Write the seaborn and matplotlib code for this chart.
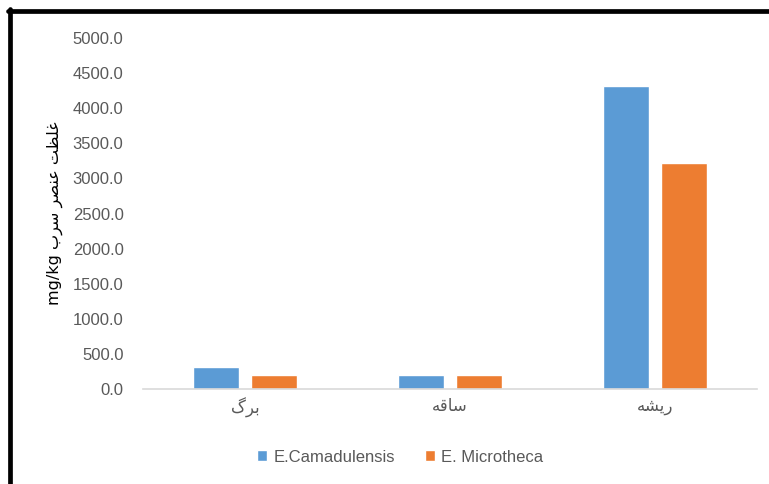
import seaborn as sns
import matplotlib.pyplot as plt
import pandas as pd
from matplotlib.lines import Line2D
from matplotlib import font_manager

# Persian labels written with presentation forms in visual order (matplotlib has no shaping)
categories = ["\uFB92\uFEAE\uFE91", "\uFEEA\uFED7\uFE8E\uFEB3", "\uFEEA\uFEB8\uFBFE\uFEAD"]  # برگ، ساقه، ریشه
series = ["E.Camadulensis", "E. Microtheca"]
camadulensis = [310, 200, 4320]
microtheca = [200, 200, 3220]
yticks = [0, 500, 1000, 1500, 2000, 2500, 3000, 3500, 4000, 4500, 5000]
ylabel = "mg/kg " + "\uFE8F\uFEAE\uFEB3 \uFEAE\uFEBC\uFEE8\uFECB \uFE96\uFEC8\uFEE0\uFECF"

df = pd.DataFrame({
    "cat": categories * 2,
    "val": camadulensis + microtheca,
    "species": [series[0]] * 3 + [series[1]] * 3,
})

sns.set_style("white")
names = {f.name for f in font_manager.fontManager.ttflist}
narrow = "Liberation Sans Narrow" if "Liberation Sans Narrow" in names else "Liberation Sans"
plt.rcParams["font.family"] = [narrow, "DejaVu Sans"]

fig = plt.figure(figsize=(7.69, 4.84), dpi=100)
ax = fig.add_axes([143 / 769, 1 - 389 / 484, (757 - 143) / 769, (389 - 38) / 484])

sns.barplot(data=df, x="cat", y="val", hue="species", order=categories,
            hue_order=series, palette=["#5B9BD5", "#ED7D31"], saturation=1,
            width=0.567, gap=0.207, ax=ax, legend=True)

ax.set_ylim(0, 5000)
ax.set_xlim(-0.5, 2.5)
ax.set_yticks(yticks)
ax.set_yticklabels([f"{v:.1f}" for v in yticks], color="#595959", fontsize=12)
ax.set_xticks(range(3))
ax.set_xticklabels(categories, color="#595959", fontsize=12, family=["DejaVu Sans"])
ax.tick_params(axis="both", length=0, pad=6)
ax.tick_params(axis="y", pad=14)
ax.set_xlabel("")
ax.set_ylabel(ylabel, fontsize=11.5, color="black", family=["DejaVu Sans"], labelpad=7)
for s in ["top", "right", "left"]:
    ax.spines[s].set_visible(False)
ax.spines["bottom"].set_color("#D9D9D9")
ax.spines["bottom"].set_linewidth(1.2)

leg = ax.legend(loc="center", bbox_to_anchor=(400 / 769, 1 - 457 / 484),
                bbox_transform=fig.transFigure, ncol=2, frameon=False,
                fontsize=12, handlelength=0.6, handleheight=0.6,
                handletextpad=0.4, columnspacing=1.8)
for t in leg.get_texts():
    t.set_color("#595959")

# black frame lines at top and left
fig.add_artist(Line2D([8 / 769, 1], [1 - 11 / 484, 1 - 11 / 484], color="black",
                      lw=3.4, transform=fig.transFigure))
fig.add_artist(Line2D([10 / 769, 10 / 769], [0, 1 - 9 / 484], color="black",
                      lw=3.4, transform=fig.transFigure))

fig.savefig("out.png", dpi=100)
